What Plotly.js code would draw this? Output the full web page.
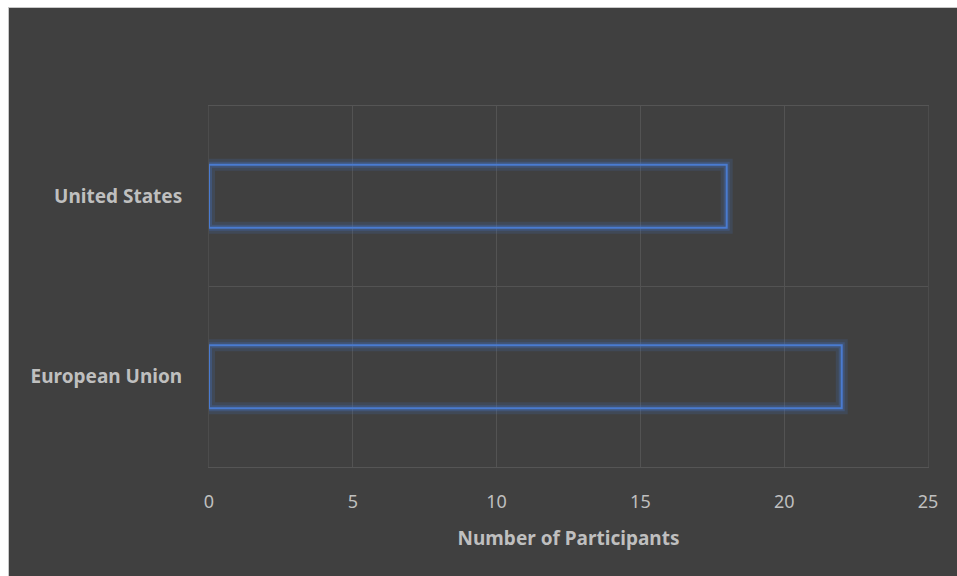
<!DOCTYPE html>
<html>
<head>
<meta charset="utf-8">
<script src="https://cdn.plot.ly/plotly-3.0.1.min.js"></script>
<style>
html,body{margin:0;padding:0;background:#ffffff;width:957px;height:576px;overflow:hidden;}
#chart{position:absolute;left:8px;top:7px;width:948px;height:568px;border-left:1px solid #c8c8c8;border-top:1px solid #c8c8c8;}
</style>
</head>
<body>
<div id="chart"></div>
<script>
var categories = ["European Union", "United States"];
var participants = [22, 18];
var xTicks = [0, 5, 10, 15, 20, 25];
var xTitle = "Number of Participants";

var glow = {
  type: "bar", orientation: "h", x: participants, y: categories,
  width: 0.35,
  marker: {color: "rgba(0,0,0,0)", line: {color: "rgba(68,114,196,0.18)", width: 12}},
  hoverinfo: "skip", showlegend: false
};
var glow2 = {
  type: "bar", orientation: "h", x: participants, y: categories,
  width: 0.35,
  marker: {color: "rgba(0,0,0,0)", line: {color: "rgba(68,114,196,0.3)", width: 6}},
  hoverinfo: "skip", showlegend: false
};
var main = {
  type: "bar", orientation: "h", x: participants, y: categories,
  width: 0.35,
  marker: {color: "rgba(0,0,0,0)", line: {color: "#4a7bd0", width: 2}},
  showlegend: false
};

var layout = {
  width: 948, height: 568,
  paper_bgcolor: "#404040", plot_bgcolor: "#404040",
  margin: {l: 200, r: 29, t: 98, b: 109},
  barmode: "overlay",
  font: {family: "Noto Sans, Open Sans, sans-serif", color: "#bfbfbf"},
  xaxis: {
    range: [0, 25], tickvals: xTicks, ticktext: xTicks.map(String),
    showgrid: true, gridcolor: "#535353", gridwidth: 1,
    zeroline: false, showline: true, mirror: true, linecolor: "#555555", linewidth: 1,
    ticks: "outside", ticklen: 18, tickcolor: "rgba(0,0,0,0)",
    tickfont: {size: 18, color: "#bfbfbf"},
    title: {text: xTitle, font: {size: 19, color: "#bfbfbf", weight: "bold"}, standoff: 20},
    fixedrange: true
  },
  yaxis: {
    type: "category", categoryorder: "array", categoryarray: categories,
    tickson: "boundaries", showgrid: true, gridcolor: "#535353", gridwidth: 1,
    showline: true, mirror: true, linecolor: "#4c4c4c", linewidth: 1,
    ticks: "", ticklabelstandoff: 22,
    tickfont: {size: 19, color: "#bfbfbf", weight: "bold"},
    zeroline: false, fixedrange: true
  }
};

Plotly.newPlot("chart", [glow, glow2, main], layout, {displayModeBar: false, staticPlot: true});
</script>
</body>
</html>
